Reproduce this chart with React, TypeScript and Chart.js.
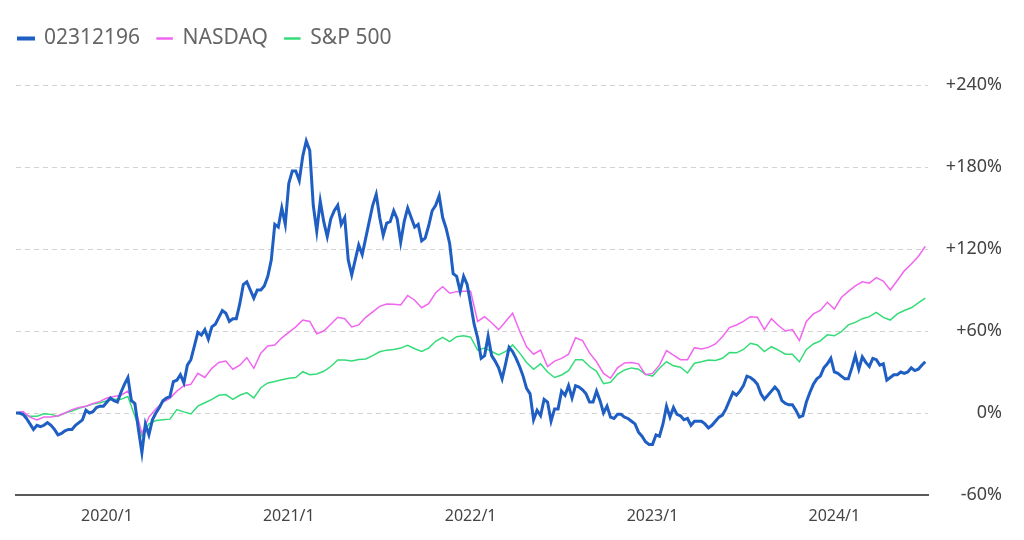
import React, { useEffect, useRef } from 'react';
import { Chart, registerables } from 'chart.js';

Chart.register(...registerables);

// ---- data (cumulative return, %) ----
const START_YEAR = 2019.5; // first data point: 2019/7
const YEAR_TICKS = [2020, 2021, 2022, 2023, 2024];
const Y_TICKS = [-60, 0, 60, 120, 180, 240];
const SERIES_NAMES = ['02312196', 'NASDAQ', 'S&P 500'];

// weekly values
const fundWeekly = [
  0, 0, -1, -4, -8, -12, -9, -10, -9, -7,
  -9, -12, -16, -15, -13, -12, -12, -9, -7, -5,
  2, 0, 1, 4, 5, 5, 8, 11, 9, 8,
  15, 21, 26, 9, 7, -12, -29, -8, -16, -5,
  0, 4, 9, 11, 12, 23, 24, 28, 22, 35,
  39, 49, 59, 57, 61, 54, 63, 65, 70, 75,
  73, 67, 69, 69, 80, 94, 96, 90, 84, 90,
  90, 93, 100, 112, 138, 136, 150, 138, 168, 177,
  177, 170, 188, 199, 192, 152, 133, 155, 140, 129,
  142, 148, 152, 138, 143, 112, 101, 112, 123, 116,
  128, 140, 152, 160, 143, 130, 139, 140, 148, 142,
  125, 140, 150, 143, 136, 138, 126, 128, 137, 148,
  152, 159, 143, 135, 124, 102, 100, 89, 100, 94,
  80, 65, 55, 40, 42, 56, 42, 38, 33, 25,
  36, 48, 45, 40, 34, 27, 18, 14, -5, 2,
  -2, 10, 8, -6, 3, 3, 16, 13, 20, 11,
  20, 19, 17, 14, 8, 8, 16, 9, 0, 5,
  -3, -4, -1, -1, -3, -4, -6, -8, -14, -17,
  -21, -23, -23, -16, -17, -8, 5, -3, 4, -1,
  -2, -5, -4, -9, -6, -6, -6, -8, -11, -9,
  -6, -3, -1.5, 3, 9, 15, 13, 16, 20, 27,
  26, 24, 21, 14, 10, 13, 16, 19, 16, 9,
  7, 6, 6, 2, -3, -2, 8, 15, 21, 25,
  27, 33, 36, 40, 30, 29, 27, 25, 25, 33,
  42, 32, 41, 37, 34, 40, 39, 35, 36, 24,
  26, 28, 28, 30, 29, 30, 33, 31, 32, 35,
  37.5,
];

// bi-weekly values
const nasdaqBiweekly = [
  0, 1, -3, -5, -3, -3, -2, 0, 2.5, 4,
  5, 7, 8.5, 11, 12, 13, 16, 4.6, -15, -3,
  3, 8, 10.7, 16, 20, 21, 29, 26, 32.7, 37,
  38, 32, 35, 40.5, 32.7, 43.7, 49, 49.8, 55, 59,
  63, 68, 67, 58, 60, 65, 70, 69, 63, 64.5,
  70, 74, 78, 79.8, 79.5, 79, 86, 82.5, 77, 80,
  88, 92.4, 87.6, 88.8, 89, 89, 67, 70.5, 66, 61,
  67, 73, 60, 48.5, 43, 46, 34, 38, 40, 43,
  55, 53, 44, 37.5, 29, 25.4, 33, 36.6, 37, 36,
  28, 29, 35, 45.6, 42.4, 39, 39, 47.8, 46.8, 48,
  50.5, 55.8, 62.5, 64.4, 67, 70.5, 70, 61, 69, 64,
  60, 61, 53, 67, 72.5, 75, 81, 76, 84.5, 89,
  93, 96, 95, 99, 96.5, 90, 97, 104, 109, 114.5,
  122,
];

const sp500Biweekly = [
  0, -1.5, -2.4, -2.4, -0.5, -1, -2.4, 0, 1.5, 3.5,
  5, 6.5, 7.5, 9, 10, 10, 12, -2.4, -17, -8,
  -5.5, -5, -4.5, 2.5, 0.8, -0.7, 5, 7.5, 10, 13,
  13.5, 10, 13, 14.9, 11, 18.5, 22, 23, 24.3, 25.5,
  26, 30.2, 28, 28.5, 30.5, 34, 38.8, 38.8, 38, 39.2,
  39.5, 42, 44.8, 46, 46.5, 47.5, 49.5, 47, 45, 47.5,
  52.5, 55.4, 52.2, 55.8, 56.5, 55.5, 46, 47.5, 45, 42.5,
  45, 49.8, 44, 37, 32, 36, 30, 26, 27.8, 31,
  39, 39, 34, 30.5, 21.5, 22.5, 28.3, 31.5, 33, 32,
  28.3, 27, 32.7, 37.5, 34.5, 33.5, 29.3, 36.4, 37.5, 38.8,
  38.4, 40, 44.2, 44, 46.5, 51, 49.8, 45, 48.5, 46,
  43, 43, 37.5, 46.5, 50.5, 52.8, 57.2, 56.5, 59.5, 64.5,
  66.3, 69, 70.5, 73.6, 70, 68, 72.5, 75, 77, 80.5,
  84,
];

const FONT = "'Noto Sans', 'DejaVu Sans', sans-serif";

const toPoints = (vals: number[], perYear: number) =>
  vals.map((v, i) => ({ x: START_YEAR + i / perYear, y: v }));

const fmtPct = (v: number) => (v > 0 ? `+${v}%` : `${v}%`);

const legendLayout = {
  id: 'legendLayout',
  beforeInit(chart: any) {
    const legend = chart.legend;
    if (!legend) return;
    const fit = legend.fit;
    legend.fit = function () {
      fit.call(this);
      this.height = 74;
    };
  },
  afterLayout(chart: any) {
    if (chart.legend) {
      chart.legend.left -= 14.5;
    }
  },
};

export default function App() {
  const canvasRef = useRef<HTMLCanvasElement | null>(null);

  useEffect(() => {
    if (!canvasRef.current) return;
    const chart = new Chart(canvasRef.current, {
      type: 'line',
      data: {
        datasets: [
          {
            label: SERIES_NAMES[0],
            data: toPoints(fundWeekly, 52),
            borderColor: '#1f5ec2',
            backgroundColor: '#1f5ec2',
            borderWidth: 3,
            pointRadius: 0,
            tension: 0,
          },
          {
            label: SERIES_NAMES[1],
            data: toPoints(nasdaqBiweekly, 26),
            borderColor: '#f265f0',
            backgroundColor: '#f265f0',
            borderWidth: 1.5,
            pointRadius: 0,
            tension: 0,
          },
          {
            label: SERIES_NAMES[2],
            data: toPoints(sp500Biweekly, 26),
            borderColor: '#34dc78',
            backgroundColor: '#34dc78',
            borderWidth: 1.5,
            pointRadius: 0,
            tension: 0,
          },
        ],
      },
      options: {
        animation: false,
        responsive: true,
        maintainAspectRatio: false,
        layout: { padding: { top: 3, left: 8, right: 14, bottom: 0 } },
        plugins: {
          legend: {
            align: 'start',
            labels: {
              boxWidth: 15,
              boxHeight: 1,
              padding: 17,
              color: '#666',
              font: { family: FONT, size: 21 },
            },
          },
          tooltip: { enabled: false },
        },
        scales: {
          x: {
            type: 'linear',
            min: 2019.5,
            max: 2024.515,
            grid: { display: false, drawTicks: false },
            border: { display: true, color: '#5a5a5a', width: 2 },
            afterBuildTicks: (s: any) => {
              s.ticks = YEAR_TICKS.map((v) => ({ value: v }));
            },
            afterFit: (s: any) => {
              s.height = 37;
            },
            ticks: {
              autoSkip: false,
              maxRotation: 0,
              padding: 12,
              color: '#444',
              font: { family: FONT, size: 16 },
              callback: (v: any) => `${v}/1`,
            },
          },
          y: {
            position: 'right',
            min: -60,
            max: 240,
            afterBuildTicks: (s: any) => {
              s.ticks = Y_TICKS.map((v) => ({ value: v }));
            },
            afterFit: (s: any) => {
              s.width = 74;
            },
            grid: { color: '#d2d2d2', drawTicks: false, lineWidth: 1 },
            border: { display: false, dash: [5, 4] },
            ticks: {
              crossAlign: 'far',
              padding: 17,
              color: '#444',
              font: { family: FONT, size: 18 },
              callback: (v: any) => fmtPct(Number(v)),
            },
          },
        },
      } as any,
      plugins: [legendLayout as any],
    });
    return () => chart.destroy();
  }, []);

  return (
    <div style={{ width: 1008, height: 524 }}>
      <canvas ref={canvasRef} />
    </div>
  );
}
